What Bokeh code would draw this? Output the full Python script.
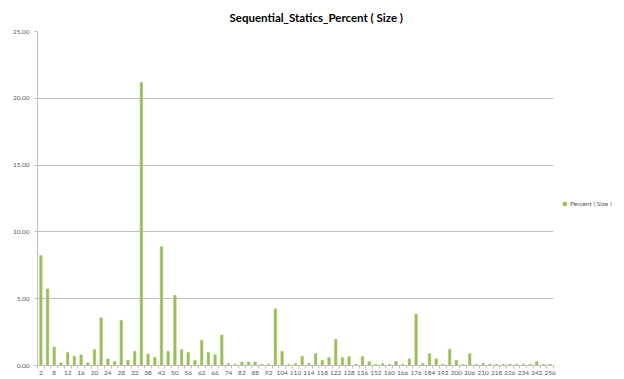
from bokeh.plotting import figure
from bokeh.layouts import row
from bokeh.models import FixedTicker, Legend, LegendItem, ColumnDataSource, NumeralTickFormatter
from bokeh.embed import file_html
from bokeh.resources import INLINE

# Request sizes (categories) and the share of each size in percent
sizes = [2, 4, 8, 10, 12, 14, 16, 18, 20, 22, 24, 26, 28, 30, 32, 36, 38, 40, 42, 48,
         50, 52, 56, 60, 62, 64, 66, 72, 74, 80, 82, 84, 88, 90, 92, 96, 104, 108, 110, 112,
         114, 116, 118, 120, 122, 124, 128, 132, 136, 144, 152, 156, 160, 164, 166, 168, 176, 180, 184, 188,
         192, 196, 200, 204, 206, 208, 210, 216, 218, 224, 226, 232, 234, 240, 242, 248, 256]
percent = [8.23, 5.74, 1.39, 0.20, 1.00, 0.70, 0.80, 0.20, 1.20, 3.58,
           0.50, 0.30, 3.38, 0.40, 1.07, 21.20, 0.87, 0.62, 8.90, 1.07,
           5.25, 1.20, 1.00, 0.40, 1.89, 1.00, 0.80, 2.28, 0.15, 0.10,
           0.27, 0.27, 0.27, 0.10, 0.10, 4.25, 1.07, 0.10, 0.15, 0.69,
           0.15, 0.90, 0.40, 0.60, 1.96, 0.60, 0.67, 0.10, 0.67, 0.30,
           0.10, 0.15, 0.10, 0.30, 0.10, 0.50, 3.85, 0.15, 0.90, 0.50,
           0.10, 1.22, 0.40, 0.10, 0.90, 0.10, 0.15, 0.10, 0.10, 0.10,
           0.10, 0.10, 0.10, 0.10, 0.30, 0.10, 0.10]
y_ticks = [0, 5, 10, 15, 20, 25]

idx = list(range(len(sizes)))
src = ColumnDataSource(dict(x=idx, y=percent, size=[str(s) for s in sizes]))

FONT = "Lato"
GRAY = "#595959"
BAR = "#9BBB59"
EDGE = "#B5CF85"
H = 379
CHART_W, KEY_W = 561, 63
LEFT, RIGHT, TOP, BOTTOM = 37, 8, 30, 14

p = figure(width=CHART_W, height=H, output_backend="svg", toolbar_location=None,
           x_range=(-0.5, len(sizes) - 0.5), y_range=(0, 25),
           min_border_left=LEFT, min_border_right=RIGHT, min_border_top=TOP, min_border_bottom=BOTTOM,
           title="Sequential_Statics_Percent ( Size )")
p.title.align = "left"
p.title.offset = 192
p.title.standoff = 16
p.title.text_font = FONT
p.title.text_font_size = "11.5px"
p.title.text_font_style = "bold"
p.title.text_color = "#000000"
p.outline_line_color = None
p.background_fill_color = "white"
p.border_fill_color = "white"

r = p.vbar(x="x", top="y", width=0.4, source=src, fill_color=BAR, line_color=EDGE, line_width=0.5)

# x axis: label every other category, tick marks on category boundaries
xa = p.xaxis[0]
xa.ticker = FixedTicker(ticks=idx[::2], minor_ticks=[i - 0.5 for i in range(len(sizes) + 1)])
xa.major_label_overrides = {i: str(sizes[i]) for i in idx[::2]}
xa.major_tick_out = 0
xa.major_tick_in = 0
xa.minor_tick_out = 3
xa.minor_tick_in = 0
xa.minor_tick_line_color = "#BFBFBF"
xa.axis_line_color = "#BFBFBF"
xa.major_label_text_font = FONT
xa.major_label_text_font_size = "6.5px"
xa.major_label_text_color = GRAY
xa.major_label_standoff = 2

ya = p.yaxis[0]
ya.ticker = FixedTicker(ticks=y_ticks, minor_ticks=[])
ya.formatter = NumeralTickFormatter(format="0.00")
ya.major_tick_out = 3
ya.major_tick_in = 0
ya.major_tick_line_color = "#BFBFBF"
ya.axis_line_color = "#BFBFBF"
ya.major_label_text_font = FONT
ya.major_label_text_font_size = "6.5px"
ya.major_label_text_color = GRAY
ya.major_label_standoff = 5

p.xgrid.grid_line_color = None
p.ygrid.ticker = FixedTicker(ticks=y_ticks)
p.ygrid.grid_line_color = "#BFBFBF"
p.ygrid.grid_line_width = 1

# key panel to the right of the chart; its series renderer is hidden and only feeds the legend swatch
key = figure(width=KEY_W, height=H, output_backend="svg", toolbar_location=None,
             x_axis_type=None, y_axis_type=None, min_border=0,
             x_range=(0, 1), y_range=(0, 1))
key.outline_line_color = None
key.grid.visible = False
key_r = key.vbar(x="x", top="y", width=0.4, source=src, fill_color=BAR, line_color=EDGE,
                 line_width=0.5, visible=False)
legend = Legend(items=[LegendItem(label="Percent ( Size )", renderers=[key_r])],
                location=(1, 158), orientation="vertical",
                label_text_font=FONT, label_text_font_size="6.5px", label_text_color=GRAY,
                glyph_width=5, glyph_height=5, label_standoff=3, padding=0, margin=0,
                spacing=0, border_line_color=None, background_fill_alpha=0,
                label_height=8, click_policy="none")
key.add_layout(legend, "center")

layout = row(p, key, spacing=0)
open("out.html", "w").write(file_html(layout, INLINE))
